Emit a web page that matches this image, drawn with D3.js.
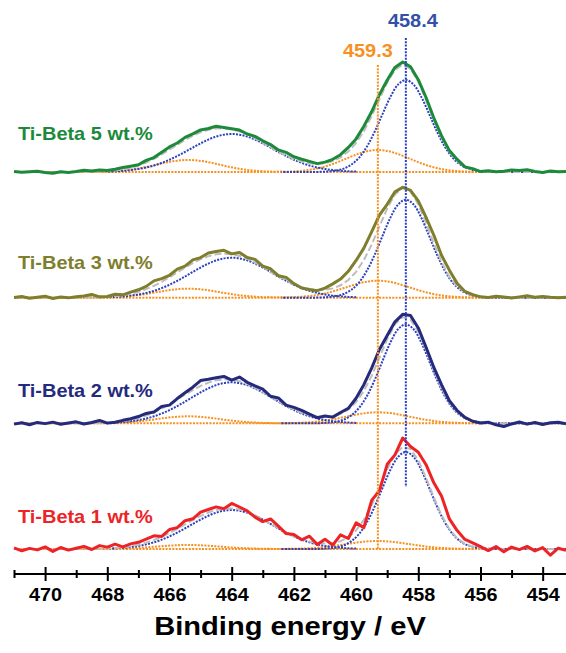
<!DOCTYPE html>
<html>
<head>
<meta charset="utf-8">
<script src="https://cdn.jsdelivr.net/npm/d3@7"></script>
<style>
body { margin: 0; background: #fff; }
svg { display: block; font-family: "Liberation Sans", Arial, sans-serif; font-weight: bold; }
</style>
</head>
<body>
<div id="chart"></div>
<script>
const width = 566,
    height = 653

// measured energy grid, eV (471 -> 453.25, 0.25 eV step)
const energy = d3.range(72).map(i => 471 - i * 0.25)

const series = ["Ti-Beta 5 wt.%", "Ti-Beta 3 wt.%", "Ti-Beta 2 wt.%", "Ti-Beta 1 wt.%"]
const seriesColors = ["#1d8a3b", "#7e7e2c", "#252a7c", "#ee2326"]

// raw Ti 2p spectra (arb. units)
const raw5 = [0.5, -0.3, 0.2, 0.8, -0.5, -1.2, 0.3, -0.4,
    0.6, 1.8, 0.9, 2.1, 1.4, 2.8, 4.5, 5.8,
    7.2, 11.6, 14.4, 19.8, 25.1, 29.0, 34.6, 38.2,
    42.1, 43.5, 45.8, 44.6, 43.2, 41.9, 38.0, 35.6,
    31.2, 27.4, 22.1, 19.6, 15.2, 12.8, 10.6, 8.4,
    9.9, 12.7, 17.3, 24.6, 33.1, 45.8, 60.2, 77.4,
    91.8, 104.6, 110.0, 105.2, 92.3, 74.5, 54.0, 36.1,
    21.4, 12.6, 5.1, 3.4, 0.4, 1.2, 0.2, 0.8,
    2.1, 1.4, 2.3, 0.6, -0.4, 0.9, 0.3, 0.6]
const raw3 = [0.2, 1.1, -0.6, 0.4, 1.5, -0.8, 0.6, -0.2,
    0.9, 1.6, 3.2, 0.8, 1.2, 3.4, 2.8, 5.6,
    7.9, 11.3, 16.8, 19.0, 22.4, 28.6, 31.5, 37.8,
    40.1, 44.6, 46.2, 47.4, 43.8, 45.1, 40.2, 38.3,
    31.6, 28.9, 22.0, 20.3, 14.1, 9.6, 8.2, 7.0,
    9.5, 13.8, 18.6, 26.4, 37.2, 49.5, 65.8, 82.6,
    93.4, 105.8, 110.5, 107.2, 96.8, 80.2, 62.4, 42.1,
    27.5, 14.3, 6.2, 3.1, 0.8, 0.2, 1.4, 0.6,
    -0.3, 0.8, 1.9, 0.5, 1.2, 0.4, -0.2, 0.5]
const raw2 = [-0.8, 0.6, -1.4, 0.9, -0.3, 1.2, -0.9, 0.4,
    1.5, -0.6, 0.8, 2.9, 0.2, 1.1, 3.0, 4.6,
    6.8, 9.9, 11.4, 16.9, 18.2, 24.8, 30.5, 36.1,
    42.8, 44.1, 45.6, 46.9, 43.2, 46.3, 41.0, 37.4,
    34.2, 27.1, 25.4, 18.2, 16.0, 12.9, 9.2, 5.6,
    7.4, 6.2, 10.8, 14.9, 25.1, 38.6, 55.2, 73.8,
    87.9, 101.5, 109.0, 107.8, 95.4, 76.1, 55.9, 38.4,
    22.6, 12.8, 6.0, 2.1, 0.4, 1.2, -1.5, -3.2,
    -0.6, 1.4, -0.8, 0.9, -1.2, 0.5, 1.1, -0.4]
const raw1 = [1.2, -1.8, 0.6, -0.9, 2.1, -2.4, 1.5, -1.1,
    0.8, 2.6, -0.5, 3.4, 1.9, 4.8, 2.2, 5.1,
    6.7, 9.8, 13.2, 12.6, 19.5, 21.4, 28.3, 30.2,
    36.8, 39.5, 42.1, 40.3, 45.6, 42.0, 38.2, 31.9,
    27.4, 30.1, 22.8, 15.4, 14.6, 9.2, 12.8, 4.6,
    9.8, 3.9, 14.2, 10.5, 26.1, 21.4, 48.6, 58.2,
    84.7, 94.1, 111.0, 102.5, 96.8, 84.3, 66.2, 52.7,
    30.1, 18.4, 9.6, 6.2, 2.3, -1.6, 2.4, -2.8,
    1.9, -0.6, 2.6, -1.9, 1.4, -6.2, 0.8, -1.3]

// fit envelopes (grey dashed)
const fit5 = [0, 0, 0, 0, 0, 0, 0, 0,
    0.1, 0.1, 0.25, 0.5, 0.9, 1.6, 2.6, 4.2,
    6.5, 9.5, 13.2, 17.6, 22.4, 27.3, 32.0, 36.3,
    39.8, 42.2, 43.5, 43.7, 42.7, 40.6, 37.5, 33.7,
    29.4, 24.8, 20.3, 16.4, 13.0, 10.3, 8.7, 8.1,
    8.8, 10.9, 14.7, 20.5, 29.0, 40.8, 55.8, 72.8,
    89.5, 102.2, 107.4, 103.3, 90.5, 72.0, 51.9, 33.9,
    20.1, 10.8, 5.2, 2.3, 0.9, 0.3, 0.1, 0,
    0, 0, 0, 0, 0, 0, 0, 0]
const fit3 = [0, 0, 0, 0, 0, 0, 0, 0,
    0.1, 0.1, 0.2, 0.4, 0.8, 1.4, 2.3, 3.8,
    5.8, 8.5, 11.9, 15.9, 20.5, 25.3, 30.1, 34.6,
    38.5, 41.5, 43.4, 44.0, 43.5, 41.7, 38.9, 35.1,
    30.7, 26.0, 21.4, 17.2, 13.4, 10.5, 8.5, 7.6,
    7.8, 9.3, 12.4, 17.7, 25.8, 37.6, 53.1, 71.1,
    89.2, 103.3, 109.7, 106.3, 93.5, 74.7, 54.0, 35.3,
    20.9, 11.2, 5.4, 2.4, 1.0, 0.3, 0.1, 0,
    0, 0, 0, 0, 0, 0, 0, 0]
const fit2 = [0, 0, 0, 0, 0, 0, 0, 0,
    0.05, 0.1, 0.2, 0.4, 0.7, 1.3, 2.1, 3.4,
    5.3, 7.8, 10.9, 14.8, 19.1, 23.9, 28.7, 33.3,
    37.4, 40.7, 43.0, 44.0, 43.7, 42.2, 39.4, 35.7,
    31.4, 26.6, 21.9, 17.5, 13.6, 10.4, 8.1, 6.7,
    6.4, 7.1, 9.4, 13.8, 21.2, 32.4, 47.5, 65.6,
    84.2, 99.0, 106.3, 103.7, 91.7, 73.5, 53.2, 34.8,
    20.7, 11.1, 5.3, 2.4, 0.9, 0.3, 0.1, 0,
    0, 0, 0, 0, 0, 0, 0, 0]
const fit1 = [0, 0, 0, 0, 0, 0, 0, 0,
    0.05, 0.1, 0.2, 0.3, 0.6, 1.0, 1.7, 2.7,
    4.2, 6.3, 8.9, 12.2, 16.0, 20.2, 24.6, 29.0,
    33.1, 36.5, 39.1, 40.4, 40.6, 39.4, 37.1, 33.7,
    29.7, 25.2, 20.8, 16.6, 12.8, 9.8, 7.5, 6.0,
    5.4, 5.9, 7.8, 11.7, 18.6, 29.2, 43.7, 61.5,
    79.8, 94.6, 102.1, 100.0, 88.6, 71.1, 51.6, 33.8,
    20.0, 10.7, 5.2, 2.2, 0.9, 0.3, 0.1, 0,
    0, 0, 0, 0, 0, 0, 0, 0]

const rawData = [raw5, raw3, raw2, raw1]
const fitData = [fit5, fit3, fit2, fit1]

// fitted components: centers (eV) and heights per sample
const compCenters = [458.4, 459.3, 464.0, 465.4]
const compColors = ["#2a40c2", "#f7901e", "#2a40c2", "#f7901e"]
const amp5 = [92, 22, 38, 12]
const amp3 = [98, 17, 40, 9]
const amp2 = [99, 11, 41, 7]
const amp1 = [97, 8, 39, 4]
const amps = [amp5, amp3, amp2, amp1]

// component line shapes, offsets -4 .. 4 eV around center (0.25 step)
const profileOffsets = d3.range(33).map(i => -4 + i * 0.25)
const mainProfile = [0, 0, 0, 0, 0, 0.002, 0.006, 0.016, 0.037, 0.081, 0.157, 0.277, 0.440, 0.630, 0.814, 0.950,
    1, 0.950, 0.814, 0.630, 0.440, 0.277, 0.157, 0.081, 0.037, 0.016, 0.006, 0.002, 0, 0, 0, 0, 0]
const orangeProfile = [0, 0.001, 0.003, 0.006, 0.013, 0.026, 0.050, 0.088, 0.146, 0.229, 0.339, 0.472, 0.618, 0.763, 0.887, 0.970,
    1, 0.970, 0.887, 0.763, 0.618, 0.472, 0.339, 0.229, 0.146, 0.088, 0.050, 0.026, 0.013, 0.006, 0.003, 0.001, 0]
const halfProfile = [0.011, 0.019, 0.031, 0.051, 0.079, 0.118, 0.171, 0.239, 0.323, 0.421, 0.529, 0.643, 0.754, 0.853, 0.932, 0.982,
    1, 0.982, 0.932, 0.853, 0.754, 0.643, 0.529, 0.421, 0.323, 0.239, 0.171, 0.118, 0.079, 0.051, 0.031, 0.019, 0.011]
const profiles = [mainProfile, orangeProfile, halfProfile, orangeProfile]

const majorTicks = [470, 468, 466, 464, 462, 460, 458, 456, 454]
const minorTicks = [471, 469, 467, 465, 463, 461, 459, 457, 455]
const markers = [458.4, 459.3]
const markerColors = ["#2a40c2", "#f7901e"]
const markerTextColors = ["#3150a9", "#f7901e"]

const x = d3.scaleLinear().domain([471, 453.25]).range([14, 566])
const base = d3.scalePoint().domain(series).range([172, 549])
const y = d3.scaleLinear().domain([0, 100]).range([0, -100])

const svg = d3.select("#chart")
    .append("svg")
        .attr("width", width)
        .attr("height", height)

const rawLine = d3.line()
    .x((d, i) => x(energy[i]))
    .y(d => y(d))
const smooth = d3.line()
    .x(d => x(d[0]))
    .y(d => y(d[1]))
    .curve(d3.curveCatmullRom)

const labelLift = [32, 29, 26, 26]

series.forEach((name, k) => {
    const g = svg.append("g").attr("transform", `translate(0,${base(name)})`)

    // components: orange first, blue on top
    ;[3, 1, 2, 0].forEach(j => {
        const c = compCenters[j], a = amps[k][j]
        let pts = profileOffsets.map((o, i) => [c + o, a * profiles[j][i]])
        if (j !== 2) pts = [[453.25, 0]].concat(pts)
        if (j === 1 || j === 3) pts = pts.concat([[471, 0]])
        g.append("path")
            .attr("d", smooth(pts))
            .attr("fill", "none")
            .attr("stroke", compColors[j])
            .attr("stroke-width", 2)
            .attr("stroke-dasharray", "2,1.3")
    })

    g.append("path")
        .attr("d", rawLine(fitData[k]))
        .attr("fill", "none")
        .attr("stroke", "#bdbdbd")
        .attr("stroke-width", 2)
        .attr("stroke-dasharray", "7,3")

    g.append("path")
        .attr("d", rawLine(rawData[k]))
        .attr("fill", "none")
        .attr("stroke", seriesColors[k])
        .attr("stroke-width", 3)
        .attr("stroke-linejoin", "round")

    svg.append("text")
        .attr("transform", `translate(18,${base(name) - labelLift[k]}) scale(1.05,1)`)
        .attr("fill", seriesColors[k])
        .attr("font-size", 19)
        .text(name)
})

// vertical marker lines
const markerTop = [38, 65], markerBottom = [487, 550], markerDx = [7, -10], markerTextY = [27, 57]
markers.forEach((m, i) => {
    svg.append("line")
        .attr("x1", x(m)).attr("x2", x(m))
        .attr("y1", markerTop[i]).attr("y2", markerBottom[i])
        .attr("stroke", markerColors[i])
        .attr("stroke-width", 2)
        .attr("stroke-dasharray", "2,1.3")
    svg.append("text")
        .attr("transform", `translate(${x(m) + markerDx[i]},${markerTextY[i]}) scale(1.05,1)`)
        .attr("text-anchor", "middle")
        .attr("fill", markerTextColors[i])
        .attr("font-size", 19)
        .text(m.toFixed(1))
})

// x axis
const axisY = 574
svg.append("line")
    .attr("x1", 14).attr("x2", 566)
    .attr("y1", axisY).attr("y2", axisY)
    .attr("stroke", "#000")
    .attr("stroke-width", 2)

const major = svg.append("g")
    .attr("transform", `translate(0,${axisY})`)
    .call(d3.axisBottom(x).tickValues(majorTicks).tickSize(7).tickFormat(d3.format("d")))
major.select(".domain").remove()
major.attr("font-family", null).attr("font-size", 18)
major.selectAll(".tick line").attr("y1", -7).attr("y2", 7).attr("stroke-width", 2)
major.selectAll(".tick text")
    .attr("y", 14)
    .attr("fill", "#000")
    .attr("transform", "scale(1.1,1)")

const minor = svg.append("g")
    .attr("transform", `translate(0,${axisY})`)
    .call(d3.axisBottom(x).tickValues(minorTicks).tickSize(4).tickFormat(""))
minor.select(".domain").remove()
minor.selectAll(".tick line").attr("y1", -4).attr("y2", 4).attr("stroke-width", 2)

svg.append("text")
    .attr("transform", "translate(290,635) scale(1.12,1)")
    .attr("text-anchor", "middle")
    .attr("font-size", 26)
    .attr("fill", "#000")
    .text("Binding energy / eV")
</script>
</body>
</html>
